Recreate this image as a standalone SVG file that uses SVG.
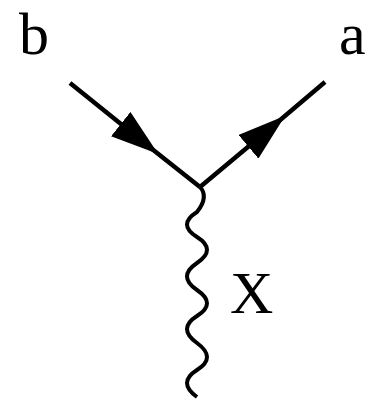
<svg xmlns="http://www.w3.org/2000/svg" width="367" height="403" viewBox="0 0 367 403">
<style>
.lbl{font-family:"Liberation Serif","Times New Roman",serif;font-size:60px;fill:#000}
.fermion{fill:none;stroke:#000;stroke-width:4.5}
.boson{fill:none;stroke:#000;stroke-width:4}
</style>
<defs>
<marker id="arr" markerUnits="userSpaceOnUse" viewBox="0 0 48 31" markerWidth="48" markerHeight="31" refX="40" refY="15.5" orient="auto">
<path d="M0,0 L48,15.5 L0,31 Z" fill="#000"/>
</marker>
</defs>
<rect width="367" height="403" fill="#fff"/>
<g id="connectors">
<path class="fermion" d="M70,83 L152,149 L200,187" marker-mid="url(#arr)"/>
<path class="fermion" d="M200,187 L279,121 L325,82" marker-mid="url(#arr)"/>
<path class="boson" d="M200,187 Q209,197 197,212 Q177,224.5 197,237 T197,263 T197,290 T197,316 T197,343 T197,370 T197,397"/>
</g>
<g id="b"><text class="lbl" x="19" y="54">b</text></g>
<g id="a"><text class="lbl" x="339" y="54">a</text></g>
<g id="X"><text class="lbl" x="230" y="313">X</text></g>
</svg>
